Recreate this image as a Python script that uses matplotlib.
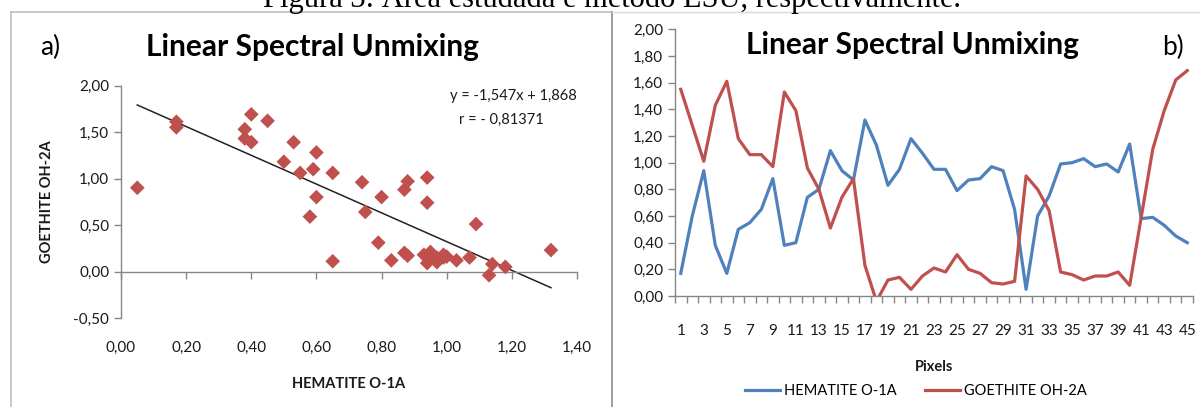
import matplotlib
matplotlib.use("Agg")
import matplotlib.pyplot as plt
from matplotlib.lines import Line2D
import numpy as np

plt.rcParams["font.family"] = ["Lato", "DejaVu Sans"]

# per-pixel abundances (pixels 1..45)
pixels = list(range(1, 46))
hematite = [0.17, 0.60, 0.94, 0.38, 0.17, 0.50, 0.55, 0.65, 0.88, 0.38,
            0.40, 0.74, 0.80, 1.09, 0.94, 0.87, 1.32, 1.13, 0.83, 0.95,
            1.18, 1.07, 0.95, 0.95, 0.79, 0.87, 0.88, 0.97, 0.94, 0.65,
            0.05, 0.60, 0.75, 0.99, 1.00, 1.03, 0.97, 0.99, 0.93, 1.14,
            0.58, 0.59, 0.53, 0.45, 0.40]
goethite = [1.55, 1.28, 1.01, 1.43, 1.61, 1.18, 1.06, 1.06, 0.97, 1.53,
            1.39, 0.96, 0.80, 0.51, 0.74, 0.88, 0.23, -0.04, 0.12, 0.14,
            0.05, 0.15, 0.21, 0.18, 0.31, 0.20, 0.17, 0.10, 0.09, 0.11,
            0.90, 0.80, 0.64, 0.18, 0.16, 0.12, 0.15, 0.15, 0.18, 0.08,
            0.59, 1.10, 1.39, 1.62, 1.69]

# regression shown in panel a)
slope, intercept = -1.547, 1.868
eq_text = "y = -1,547x + 1,868"
r_text = "r = - 0,81371"

caption = "Figura 3: Área estudada e método LSU, respectivamente."
title = "Linear Spectral Unmixing"

BLUE = "#4F81BD"
RED = "#C0504D"
AXC = "#868686"
TXT = "#1a1a1a"
TICK_FS = 11


def comma(v, n=2):
    return f"{v:.{n}f}".replace(".", ",")


def style_axis(ax):
    for s in ["top", "right"]:
        ax.spines[s].set_visible(False)
    for s in ["left", "bottom"]:
        ax.spines[s].set_color(AXC)
        ax.spines[s].set_linewidth(1.0)
    ax.tick_params(colors=AXC, labelcolor=TXT, labelsize=TICK_FS, width=1.0, length=5)


fig = plt.figure(figsize=(12, 4.07), dpi=100)
W, H = 1200, 407


def fx(px):
    return px / W


def fy(py):
    return 1 - py / H


# panel frames
fig.add_artist(Line2D([fx(11), fx(612)], [fy(12), fy(12)], color="#BDBDBD", lw=1.2))
fig.add_artist(Line2D([fx(11), fx(11)], [fy(12), fy(410)], color="#BDBDBD", lw=1.2))
fig.add_artist(Line2D([fx(612), fx(612)], [fy(12), fy(410)], color="#8C8C8C", lw=1.2))
fig.add_artist(Line2D([fx(612), fx(1200)], [fy(12), fy(12)], color="#D9D9D9", lw=1.0))

# caption of the page, cut by the top edge as in the source
fig.text(0.51, fy(7), caption, ha="center", va="baseline", fontsize=22,
         family=["Liberation Serif", "DejaVu Serif"], color="black")

# ---- panel a) scatter ----
ax1 = fig.add_axes([fx(121), fy(318), fx(577) - fx(121), fy(85.5) - fy(318)])
style_axis(ax1)
ax1.scatter(hematite, goethite, marker="D", s=56, color=RED, edgecolors="none", zorder=3)
xs = np.array([min(hematite), max(hematite)])
ax1.plot(xs, slope * xs + intercept, color="#222222", lw=1.1, zorder=2)
ax1.set_xlim(0, 1.4)
ax1.set_ylim(-0.5, 2.0)
ax1.spines["bottom"].set_position(("data", 0))
xt = np.arange(0, 1.41, 0.2)
yt = np.arange(-0.5, 2.01, 0.5)
ax1.set_xticks(xt)
ax1.set_xticklabels([])
ax1.set_yticks(yt)
ax1.set_yticklabels([comma(v) for v in yt])
# x tick labels sit below the plot area (low position)
for v in xt:
    ax1.text(v, -0.82, comma(v), ha="center", va="center", fontsize=TICK_FS, color=TXT)
ax1.text(0.5, -0.285, "HEMATITE O-1A", transform=ax1.transAxes, ha="center",
         va="center", fontsize=10.5, fontweight="bold", color=TXT)
ax1.set_ylabel("GOETHITE OH-2A", fontsize=10.5, fontweight="bold", color=TXT, labelpad=14)
ax1.text(1.0, 0.955, eq_text, transform=ax1.transAxes, ha="right", va="center",
         fontsize=10.5, color=TXT)
ax1.text(0.835, 0.85, r_text, transform=ax1.transAxes, ha="center", va="center",
         fontsize=10.5, color=TXT)
fig.text(fx(312), fy(47), title, ha="center", va="center", fontsize=21.5,
         fontweight="bold", color="black")
fig.text(fx(50), fy(47), "a)", ha="center", va="center", fontsize=19, color="black")

# ---- panel b) line chart ----
ax2 = fig.add_axes([fx(675), fy(296), fx(1193) - fx(675), fy(29.3) - fy(296)])
style_axis(ax2)
ax2.plot(pixels, hematite, color=BLUE, lw=2.3, solid_joinstyle="round", label="HEMATITE O-1A")
ax2.plot(pixels, goethite, color=RED, lw=2.3, solid_joinstyle="round", label="GOETHITE OH-2A")
ax2.set_xlim(0.5, 45.5)
ax2.set_ylim(0, 2.0)
yt2 = np.arange(0, 2.01, 0.2)
ax2.set_yticks(yt2)
ax2.set_yticklabels([comma(v) for v in yt2])
ax2.set_xticks(np.arange(0.5, 45.6, 1.0))
ax2.set_xticklabels([])
ax2.set_xticks(pixels[::2], minor=True)
ax2.set_xticklabels([str(p) for p in pixels[::2]], minor=True)
ax2.tick_params(axis="x", which="minor", length=0, pad=20, labelsize=TICK_FS, labelcolor=TXT)
ax2.set_xlabel("Pixels", fontsize=10.5, fontweight="bold", color=TXT, labelpad=16)
ax2.legend(loc="upper center", bbox_to_anchor=(0.465, -0.28), ncol=2, frameon=False,
           fontsize=10.5, handlelength=2.4, columnspacing=1.9, handletextpad=0.3)
fig.text(fx(913), fy(45), title, ha="center", va="center", fontsize=21.5,
         fontweight="bold", color="black")
fig.text(fx(1173), fy(47), "b)", ha="center", va="center", fontsize=19, color="black")

fig.savefig("out.png", dpi=100)
